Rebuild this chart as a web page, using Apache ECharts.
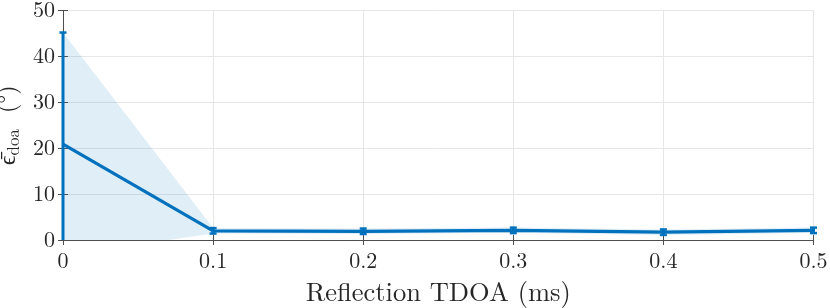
<!DOCTYPE html>
<html><head><meta charset="utf-8">
<script src="https://cdn.jsdelivr.net/npm/echarts@6/dist/echarts.min.js"></script>
<style>html,body{margin:0;padding:0;background:#fff}#c{width:830px;height:308px}</style>
</head><body><div id="c"></div>
<script>
var tdoa = [0, 0.1, 0.2, 0.3, 0.4, 0.5];
var meanErr = [20.9, 2.0, 1.9, 2.1, 1.7, 2.1];
var lowerErr = [-3.3, 1.4, 1.3, 1.5, 1.1, 1.5];
var upperErr = [45.2, 2.6, 2.5, 2.7, 2.3, 2.7];
var xTicks = [0, 0.1, 0.2, 0.3, 0.4, 0.5];
var yTicks = [0, 10, 20, 30, 40, 50];

var FONT = '"Latin Modern Roman","CMU Serif","Liberation Serif",serif';
var BLUE = '#0072BD';
var AX = '#4d4d4d';

var chart = echarts.init(document.getElementById('c'));
var gridX = {
  type: 'value', min: 0, max: 0.5, interval: 0.1,
  axisLine: {show: true, lineStyle: {color: AX, width: 1}},
  axisTick: {show: true, inside: true, length: 5, lineStyle: {color: AX}},
  splitLine: {show: true, lineStyle: {color: '#e6e6e6', width: 1}},
};
var gridY = {
  type: 'value', min: 0, max: 50, interval: 10,
  axisLine: {show: true, lineStyle: {color: AX, width: 1}},
  axisTick: {show: true, inside: true, length: 5, lineStyle: {color: AX}},
  splitLine: {show: true, lineStyle: {color: '#e6e6e6', width: 1}},
};
var option = {
  animation: false,
  backgroundColor: '#fff',
  grid: {left: 63, right: 16.5, top: 10.5, bottom: 68, containLabel: false, outerBoundsMode: 'none'},
  xAxis: [
    Object.assign({}, gridX, {
      position: 'bottom',
      axisLabel: {color: '#262626', fontFamily: FONT, fontSize: 22, margin: 10,
        formatter: function (v) { return xTicks.indexOf(Math.round(v*10)/10) >= 0 ? String(Math.round(v*10)/10) : ''; }},
      name: 'Reflection TDOA (ms)', nameLocation: 'middle', nameGap: 39,
      nameTextStyle: {color: '#262626', fontFamily: FONT, fontSize: 26.5}
    }),
    Object.assign({}, gridX, {position: 'top', axisLabel: {show: false}, splitLine: {show: false}})
  ],
  yAxis: [
    Object.assign({}, gridY, {
      position: 'left',
      axisLabel: {color: '#262626', fontFamily: FONT, fontSize: 22, margin: 8,
        formatter: function (v) { return yTicks.indexOf(v) >= 0 ? String(v) : ''; }},
      name: '{a|\u03F5\u0304}{s|doa}{a|  (\u00B0)}', nameLocation: 'middle', nameGap: 29,
      nameTextStyle: {rich: {
        a: {color: '#262626', fontFamily: FONT, fontSize: 24},
        s: {color: '#262626', fontFamily: FONT, fontSize: 17, padding: [11, 0, 0, 0]}
      }}
    }),
    Object.assign({}, gridY, {position: 'right', axisLabel: {show: false}, splitLine: {show: false}})
  ],
  series: [
    {
      type: 'custom', xAxisIndex: 0, yAxisIndex: 0, clip: true, silent: true, z: 1,
      data: [0],
      renderItem: function (params, api) {
        var pts = [];
        for (var i = 0; i < tdoa.length; i++) pts.push(api.coord([tdoa[i], upperErr[i]]));
        for (var j = tdoa.length - 1; j >= 0; j--) pts.push(api.coord([tdoa[j], lowerErr[j]]));
        return {type: 'polygon', shape: {points: pts}, style: {fill: 'rgba(0,114,189,0.12)', stroke: 'none'}};
      }
    },
    {
      type: 'line', xAxisIndex: 0, yAxisIndex: 0, z: 3,
      data: tdoa.map(function (x, i) { return [x, meanErr[i]]; }),
      showSymbol: false, lineStyle: {color: BLUE, width: 3.3}, silent: true
    },
    {
      type: 'custom', xAxisIndex: 0, yAxisIndex: 0, clip: false, silent: true, z: 4,
      data: tdoa.map(function (x, i) { return [x, lowerErr[i], upperErr[i]]; }),
      renderItem: function (params, api) {
        var lo = api.coord([api.value(0), Math.max(api.value(1), 0)]);
        var hi = api.coord([api.value(0), api.value(2)]);
        var loRaw = api.value(1);
        var w = 3.5;
        var children = [
          {type: 'line', shape: {x1: hi[0], y1: hi[1], x2: lo[0], y2: lo[1]}, style: {stroke: BLUE, lineWidth: 3}},
          {type: 'line', shape: {x1: hi[0]-w, y1: hi[1], x2: hi[0]+w, y2: hi[1]}, style: {stroke: BLUE, lineWidth: 2.5}}
        ];
        if (loRaw >= 0) children.push({type: 'line', shape: {x1: lo[0]-w, y1: lo[1], x2: lo[0]+w, y2: lo[1]}, style: {stroke: BLUE, lineWidth: 2.5}});
        return {type: 'group', children: children};
      }
    }
  ]
};
chart.setOption(option);
</script></body></html>
